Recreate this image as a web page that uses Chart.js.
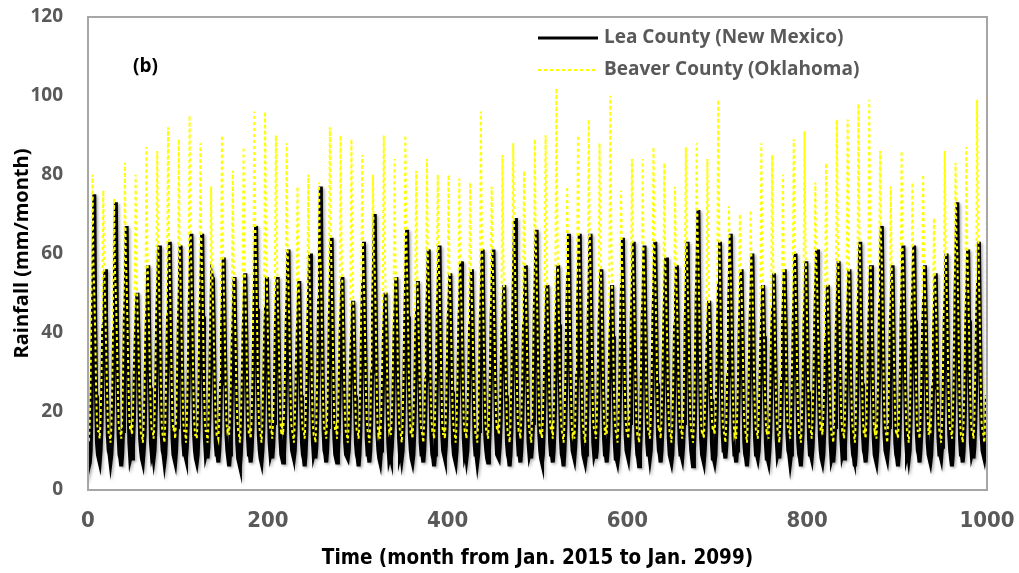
<!DOCTYPE html>
<html>
<head>
<meta charset="utf-8">
<script src="https://cdn.jsdelivr.net/npm/chart.js@4.4.1/dist/chart.umd.min.js"></script>
<style>
  html, body { margin: 0; padding: 0; background: #ffffff; }
  #wrap { width: 1019px; height: 573px; position: relative; }
</style>
</head>
<body>
<div id="wrap"><canvas id="rain" width="1019" height="573"></canvas></div>
<script>
// Monthly rainfall (mm/month), one row per year, Jan..Dec, starting Jan. 2015
const leaCounty = [
  [12,6,7,10,22,38,52,75,44,24,12,9],
  [8,7,10,16,28,42,38,56,45,27,14,10],
  [9,7,9,14,24,40,54,73,48,30,14,9],
  [8,6,9,15,26,44,50,67,42,25,12,8],
  [9,8,11,17,30,38,44,50,40,24,13,10],
  [8,7,10,14,26,40,46,57,42,26,12,9],
  [10,8,10,16,28,45,52,62,44,27,14,10],
  [9,7,9,15,30,44,50,63,46,28,13,9],
  [8,7,10,16,27,42,50,62,40,25,12,9],
  [9,8,11,17,28,46,54,65,45,28,14,10],
  [8,7,9,15,26,43,52,65,44,26,13,9],
  [10,8,11,18,30,42,54,53,40,25,12,9],
  [9,7,10,15,27,40,48,59,42,27,14,10],
  [8,6,9,14,25,38,44,54,39,24,12,8],
  [7,6,9,15,26,40,46,55,41,26,13,9],
  [9,7,10,16,28,45,55,67,46,28,14,10],
  [8,7,10,15,27,40,46,54,42,25,12,9],
  [10,8,11,17,28,42,48,54,40,26,13,9],
  [8,7,9,15,26,42,50,61,44,27,14,10],
  [9,8,10,16,28,38,44,53,40,24,12,9],
  [8,6,9,15,27,42,50,60,44,26,13,9],
  [10,8,11,18,30,48,60,77,50,30,15,10],
  [9,7,10,16,28,44,52,64,45,27,13,9],
  [8,7,9,15,26,40,46,54,40,25,12,9],
  [9,8,10,16,27,36,40,48,38,24,12,9],
  [8,6,9,15,28,44,52,63,44,27,13,9],
  [9,7,10,17,30,46,56,70,47,28,14,10],
  [8,7,10,15,26,38,44,50,40,24,12,8],
  [9,8,11,16,27,40,46,54,42,26,13,9],
  [10,8,10,17,29,45,54,66,44,27,14,10],
  [8,7,9,15,26,40,45,53,40,25,12,9],
  [9,7,10,16,28,44,50,61,43,26,13,9],
  [8,6,9,15,27,44,52,62,44,27,14,10],
  [9,8,11,17,28,42,48,55,41,25,12,9],
  [8,7,10,16,27,42,48,58,42,26,13,9],
  [10,8,10,16,28,42,46,56,40,25,12,9],
  [9,7,9,15,27,44,50,61,43,26,13,10],
  [8,7,10,16,28,44,52,61,44,27,14,9],
  [9,8,11,17,29,40,45,52,39,24,12,9],
  [8,6,9,15,28,46,56,69,46,28,13,9],
  [9,7,10,16,27,42,48,57,42,26,12,9],
  [10,8,11,17,29,46,54,66,45,27,14,10],
  [8,7,9,15,26,38,44,52,40,25,12,9],
  [9,7,10,16,27,42,48,57,42,26,13,9],
  [8,6,10,16,28,45,54,65,44,27,14,10],
  [9,8,11,17,29,46,55,65,45,28,13,9],
  [8,7,9,15,27,44,54,65,44,26,12,9],
  [10,8,10,16,28,42,48,56,41,25,13,9],
  [9,7,10,15,26,38,44,52,39,24,12,8],
  [8,7,9,16,28,44,52,64,44,27,14,10],
  [9,8,11,17,28,45,52,63,43,26,13,9],
  [8,6,9,15,27,44,50,62,43,26,12,9],
  [10,8,10,16,28,45,52,63,44,27,14,10],
  [9,7,10,16,27,42,50,59,42,25,13,9],
  [8,7,9,15,26,42,48,57,41,25,12,9],
  [9,8,11,17,28,44,52,63,44,27,14,10],
  [8,6,10,16,29,48,58,71,47,28,13,9],
  [9,7,10,15,26,36,42,48,38,23,12,8],
  [8,7,9,16,28,44,52,63,44,27,14,10],
  [10,8,11,17,29,46,54,65,45,27,13,9],
  [9,7,10,15,27,42,48,56,41,25,12,9],
  [8,6,9,16,28,43,50,60,43,26,13,9],
  [9,8,10,16,27,38,44,52,39,24,12,8],
  [8,7,10,15,26,40,46,55,41,25,13,9],
  [10,8,11,17,28,42,48,56,42,26,14,10],
  [9,7,9,16,28,43,50,60,43,26,12,9],
  [8,6,10,15,27,42,48,58,42,25,13,9],
  [9,8,11,17,28,44,52,61,44,27,14,10],
  [8,7,9,15,26,38,44,52,39,24,12,8],
  [9,7,10,16,27,42,48,58,42,26,13,9],
  [10,8,11,17,28,42,48,56,41,25,12,9],
  [8,6,9,16,28,44,52,63,44,27,14,10],
  [9,7,10,15,27,42,48,57,42,26,13,9],
  [8,7,10,17,29,47,56,67,46,28,14,10],
  [9,8,11,16,27,42,48,57,41,25,12,9],
  [8,6,9,16,28,44,52,62,44,26,13,9],
  [10,8,10,17,28,44,52,62,43,27,14,10],
  [9,7,10,15,27,42,48,57,42,25,12,9],
  [8,7,9,15,26,40,46,55,40,25,13,9],
  [9,8,11,16,28,43,50,60,43,26,14,10],
  [8,6,9,17,30,50,60,73,48,28,13,9],
  [9,7,10,16,27,43,50,61,43,26,12,9],
  [10,8,11,17,28,44,52,63,44,27,14,10],
  [9,8,10,14,24,38,46,58,42,25,12,9]
];

const beaverCounty = [
  [13,12,17,30,54,80,58,50,40,26,17,15],
  [15,13,18,28,50,76,56,48,38,27,18,14],
  [14,12,16,27,48,74,55,50,40,28,17,15],
  [15,13,18,29,52,83,60,52,41,27,18,15],
  [16,14,19,30,50,80,57,46,38,26,17,14],
  [14,12,17,28,52,87,62,50,40,27,18,15],
  [15,13,18,30,54,86,63,52,42,28,17,14],
  [14,12,17,29,55,92,66,54,42,28,18,15],
  [16,13,18,28,52,89,62,52,40,27,17,15],
  [15,12,17,30,56,95,68,55,43,28,18,14],
  [14,13,18,29,53,88,64,54,42,27,17,15],
  [15,12,17,28,48,77,56,48,38,26,18,14],
  [14,13,18,30,54,90,64,52,41,28,17,15],
  [16,14,19,29,50,81,58,48,39,26,18,15],
  [14,12,17,28,52,87,62,50,40,27,17,14],
  [15,13,18,30,56,96,68,56,44,28,18,15],
  [14,12,17,31,57,96,66,52,41,27,17,15],
  [15,13,18,29,53,90,63,50,40,28,18,14],
  [16,14,19,30,52,88,62,52,41,27,17,15],
  [14,12,17,27,48,77,55,47,38,26,18,15],
  [15,13,18,28,50,80,58,50,40,27,17,14],
  [14,12,17,29,52,78,60,56,44,28,18,15],
  [15,13,18,30,55,92,65,54,42,28,17,15],
  [16,13,18,29,53,90,63,51,40,27,18,14],
  [14,12,17,28,52,89,62,48,38,26,17,15],
  [15,13,18,29,51,85,60,52,41,27,18,15],
  [14,12,17,28,50,80,60,55,44,28,17,14],
  [15,13,18,30,54,90,63,50,39,26,18,15],
  [16,14,19,29,51,84,59,50,40,27,17,15],
  [14,12,17,29,54,90,64,54,42,28,18,14],
  [15,13,18,28,50,81,57,48,38,26,17,15],
  [14,12,17,28,51,84,60,52,41,27,18,15],
  [15,13,18,29,50,80,58,52,41,28,17,14],
  [16,13,18,28,49,80,57,48,39,26,18,15],
  [14,12,17,28,49,79,57,50,40,27,17,15],
  [15,13,18,28,48,78,56,48,39,26,18,14],
  [14,12,17,31,57,96,67,52,41,27,17,15],
  [15,13,18,28,48,77,58,52,41,28,18,15],
  [16,14,19,29,51,85,60,48,38,26,17,14],
  [14,12,17,29,53,88,64,56,43,28,18,15],
  [15,13,18,28,50,81,58,50,40,27,17,15],
  [14,12,17,29,53,89,64,54,42,28,18,14],
  [15,13,18,30,54,90,62,48,38,26,17,15],
  [16,13,18,32,60,102,70,52,41,27,18,15],
  [14,12,17,28,48,77,58,54,42,28,17,14],
  [15,13,18,29,54,90,64,55,43,28,18,15],
  [14,12,17,30,56,94,66,54,42,27,17,15],
  [15,13,18,29,52,88,62,50,40,26,18,14],
  [16,14,19,31,58,100,68,50,39,26,17,15],
  [14,12,17,28,48,76,58,54,42,28,18,15],
  [15,13,18,29,51,84,60,53,42,27,17,14],
  [14,12,17,28,51,84,60,52,41,27,18,15],
  [15,13,18,29,52,87,62,53,42,28,17,15],
  [16,13,18,28,50,83,59,50,40,26,18,14],
  [14,12,17,28,48,77,56,49,39,26,17,15],
  [15,13,18,29,52,87,62,53,42,28,18,15],
  [14,12,17,30,54,88,66,58,45,28,17,14],
  [15,13,18,28,50,84,58,46,37,25,18,15],
  [16,14,19,31,58,99,68,54,42,27,17,15],
  [14,12,17,28,48,72,60,55,43,28,18,14],
  [15,13,18,28,46,70,56,50,40,27,17,15],
  [14,12,17,28,47,71,58,52,41,27,18,15],
  [15,13,18,29,52,88,60,48,38,26,17,14],
  [16,13,18,28,51,85,60,50,40,27,18,15],
  [14,12,17,28,50,80,58,50,40,27,17,15],
  [15,13,18,29,53,89,63,52,41,27,18,14],
  [14,12,17,30,54,91,64,52,41,27,17,15],
  [15,13,18,28,49,78,58,53,42,28,18,15],
  [16,14,19,28,50,83,58,48,38,26,17,14],
  [14,12,17,30,56,94,66,52,41,27,18,15],
  [15,13,18,30,56,94,64,50,40,26,17,15],
  [14,12,17,31,58,98,68,54,42,28,18,14],
  [15,13,18,31,58,99,67,52,41,27,17,15],
  [16,13,18,29,52,86,64,58,45,28,18,15],
  [14,12,17,28,48,77,56,50,40,27,17,14],
  [15,13,18,29,52,86,62,54,42,27,18,15],
  [14,12,17,28,49,78,58,54,42,28,17,15],
  [15,13,18,28,50,80,58,50,40,27,18,14],
  [16,14,19,28,46,69,55,48,39,26,17,15],
  [14,12,17,29,52,86,62,52,41,27,18,15],
  [15,13,18,28,51,83,64,60,46,28,17,14],
  [14,12,17,29,52,87,62,52,41,27,18,15],
  [15,13,18,31,58,99,68,54,42,28,17,15],
  [14,12,18,34,84,70,56,48,38,26,17,15]
];

const seriesNames = ['Lea County (New Mexico)', 'Beaver County (Oklahoma)'];
const monthTicks = [0, 200, 400, 600, 800, 1000];
const rainTicks = [0, 20, 40, 60, 80, 100, 120];

const leaMonthly = leaCounty.flat();
const beaverMonthly = beaverCounty.flat();
const toPoints = arr => arr.map((v, i) => ({ x: i, y: v }));

const narrow = "'Liberation Sans Narrow', 'DejaVu Sans Condensed', sans-serif";
const wide = "'Open Sans', 'Noto Sans', sans-serif";

// Frame, panel tag and legend drawn on top of the plot
const decorations = {
  id: 'decorations',
  beforeDatasetDraw(chart, args) {
    if (args.index === 0) {
      const c = chart.ctx;
      c.save();
      c.shadowColor = 'rgba(0,0,0,0.35)';
      c.shadowBlur = 3;
      c.shadowOffsetX = 1.5;
      c.shadowOffsetY = 1.5;
    }
  },
  afterDatasetDraw(chart, args) {
    if (args.index === 0) chart.ctx.restore();
  },
  afterDraw(chart) {
    const c = chart.ctx;
    const a = chart.chartArea;
    c.save();
    c.strokeStyle = '#a6a6a6';
    c.lineWidth = 2;
    c.strokeRect(a.left, a.top, a.right - a.left, a.bottom - a.top);

    c.fillStyle = '#000';
    c.font = `bold 19px ${wide}`;
    c.textBaseline = 'middle';
    c.textAlign = 'left';
    c.fillText('(b)', 133, 67);

    const rows = [38, 70];
    chart.data.datasets.forEach((ds, i) => {
      const y = rows[i];
      c.beginPath();
      c.setLineDash(ds.borderDash || []);
      c.strokeStyle = ds.borderColor;
      c.lineWidth = i === 0 ? 3 : 2;
      c.moveTo(538, y);
      c.lineTo(598, y);
      c.stroke();
      c.setLineDash([]);
      c.fillStyle = '#595959';
      c.font = `bold 19px ${wide}`;
      c.fillText(ds.label, 604, y);
    });
    c.restore();
  }
};

new Chart(document.getElementById('rain'), {
  type: 'line',
  data: {
    datasets: [
      {
        label: seriesNames[0],
        data: toPoints(leaMonthly),
        borderColor: '#000000',
        borderWidth: 4,
        pointRadius: 0,
        tension: 0,
        fill: false,
        order: 2
      },
      {
        // dashed yellow series sits above the black one
        label: seriesNames[1],
        data: toPoints(beaverMonthly),
        borderColor: '#ffff00',
        borderWidth: 2,
        borderDash: [3, 3],
        pointRadius: 0,
        tension: 0,
        fill: false,
        order: 1
      }
    ]
  },
  options: {
    responsive: false,
    animation: false,
    events: [],
    layout: { autoPadding: false, padding: { top: 17, right: 32, left: 0, bottom: 0 } },
    plugins: { legend: { display: false }, tooltip: { enabled: false } },
    scales: {
      x: {
        type: 'linear',
        min: monthTicks[0],
        max: monthTicks[monthTicks.length - 1],
        afterFit: s => { s.height = 83; s.paddingLeft = 0; s.paddingRight = 0; },
        afterBuildTicks: s => { s.ticks = monthTicks.map(v => ({ value: v })); },
        grid: { display: false, drawTicks: false },
        border: { display: false },
        ticks: {
          padding: 18,
          color: '#595959',
          callback: v => String(v),
          font: { family: narrow, size: 22, weight: 'bold' }
        },
        title: {
          display: true,
          text: 'Time (month from Jan. 2015 to Jan. 2099)',
          color: '#000',
          padding: { top: 0, bottom: 2 },
          font: { family: narrow, size: 20.5, weight: 'bold' }
        }
      },
      y: {
        min: rainTicks[0],
        max: rainTicks[rainTicks.length - 1],
        afterFit: s => { s.width = 88; s.paddingTop = 0; s.paddingBottom = 0; },
        afterBuildTicks: s => { s.ticks = rainTicks.map(v => ({ value: v })); },
        grid: { display: false, drawTicks: false },
        border: { display: false },
        ticks: {
          padding: 25,
          color: '#595959',
          callback: v => String(v),
          font: { family: wide, size: 19, weight: 'bold' }
        },
        title: {
          display: true,
          text: 'Rainfall (mm/month)',
          color: '#000',
          padding: { top: 10, bottom: 0 },
          font: { family: wide, size: 20, weight: 'bold' }
        }
      }
    }
  },
  plugins: [decorations]
});
</script>
</body>
</html>
